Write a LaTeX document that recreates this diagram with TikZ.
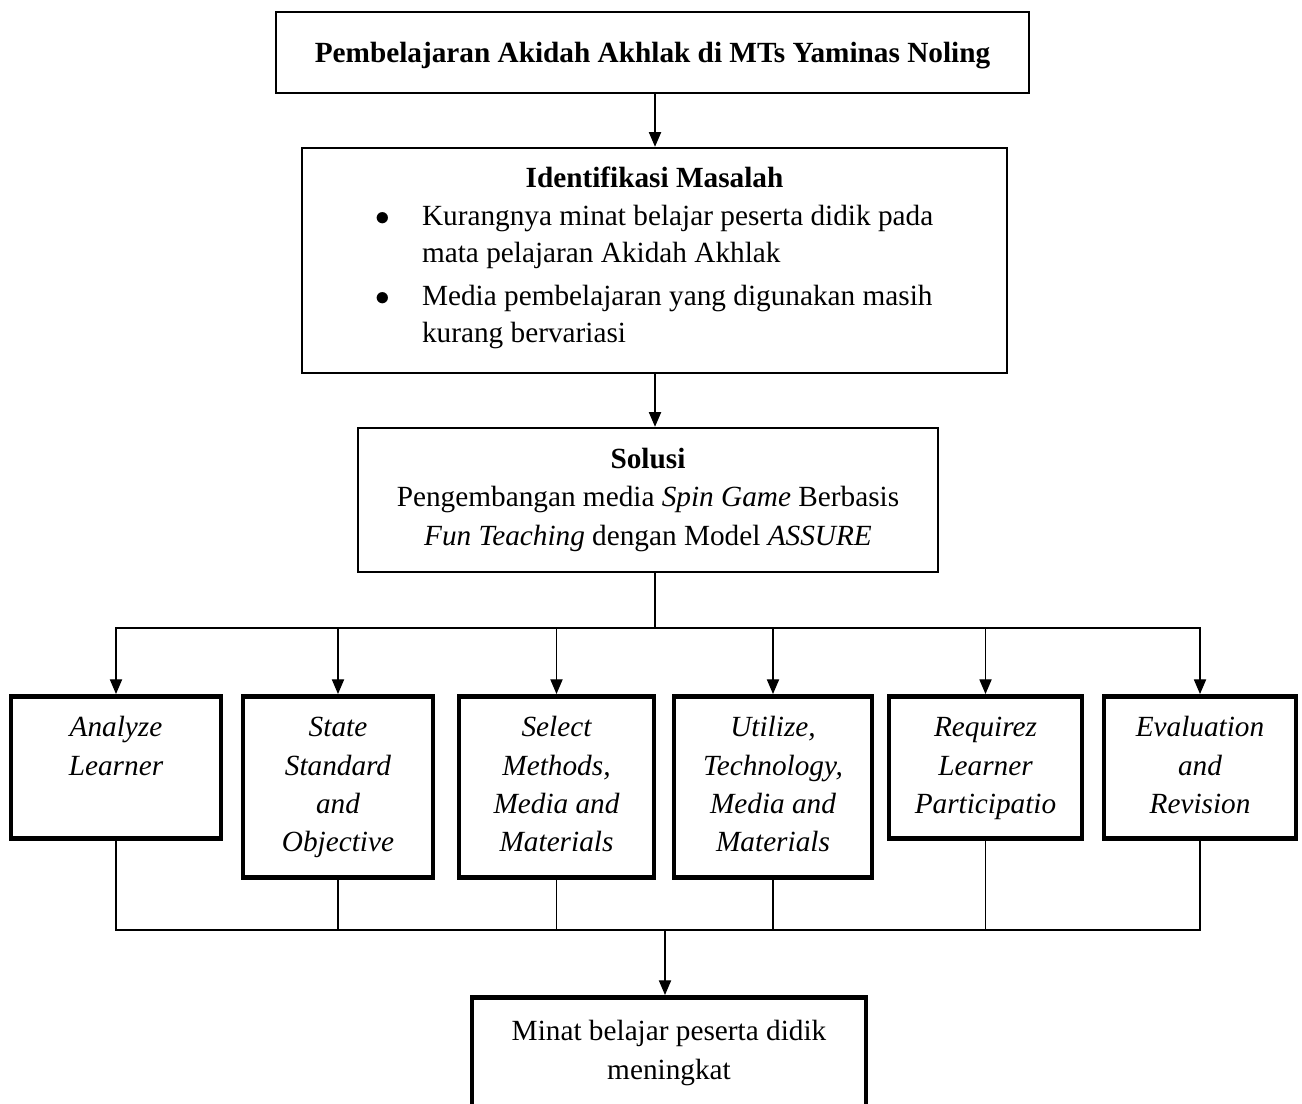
\documentclass[tikz,border=0pt]{standalone}
\usepackage{fontspec}
\setmainfont{Liberation Serif}
\usepackage{tikz}
\usetikzlibrary{arrows.meta, positioning, calc}
\newcommand{\px}{0.41pt}
\tikzset{
	titlebox/.style ={rectangle, draw=black, line width=1pt, align=center, font=\fontsize{12}{15.6}\selectfont\bfseries, text depth=0pt, minimum width=753*\px, minimum height=81*\px},
	probbox/.style  ={rectangle, draw=black, line width=1pt, align=center, minimum width=705*\px, minimum height=225*\px},
	solbox/.style   ={rectangle, draw=black, line width=1pt, align=center, minimum width=580*\px, minimum height=144*\px},
	% ASSURE step boxes (text height counts down to the last line)
	stepbox/.style  ={rectangle, draw=black, line width=2pt, align=center, anchor=north, inner ysep=0pt, inner xsep=2pt,
		font=\fontsize{12}{15.7}\selectfont\itshape, text depth=10.4pt},
	endbox/.style   ={rectangle, draw=black, line width=2pt, align=center, anchor=north, inner ysep=0pt,
		font=\fontsize{12}{16}\selectfont, text height=33.6pt, text depth=20pt, minimum width=394*\px},
	flowarrow/.style={-{Triangle[length=6pt, width=5pt]}, line width=0.5pt},
	wire/.style     ={line width=0.5pt},
}

\begin{document}
\begin{tikzpicture}[x=\px, y=-\px, font=\fontsize{12}{15.6}\selectfont]
	\useasboundingbox (0,0) rectangle (1302,1104);
	\clip (0,0) rectangle (1302,1104);
	% top
	\node[titlebox] (judul) at (652.5,52.5) {Pembelajaran Akidah Akhlak di MTs Yaminas Noling};
	\node[probbox] (masalah) at (654.5,260.5) {\textbf{Identifikasi Masalah}\\[0pt]
		\fontsize{12}{15.2}\selectfont
		\begin{tabular}[t]{@{}c@{\hspace{13pt}}l@{}}
			$\bullet$ & Kurangnya minat belajar peserta didik pada\\
			& mata pelajaran Akidah Akhlak\\[2.5pt]
			$\bullet$ & Media pembelajaran yang digunakan masih\\
			& kurang bervariasi
		\end{tabular}};
	\node[solbox] (solusi) at (648,500) {\textbf{Solusi}\\
		Pengembangan media \textit{Spin Game} Berbasis\\
		\textit{Fun Teaching} dengan Model \textit{ASSURE}};
	% ASSURE steps
	\node[stepbox, minimum width=210*\px, text height=32.3pt, text depth=26.1pt] (analyze) at (116,694) {Analyze\\Learner};
	\node[stepbox, minimum width=190*\px, text height=63.7pt] (state) at (338,694) {State\\Standard\\and\\Objective};
	\node[stepbox, minimum width=195*\px, text height=63.7pt] (select) at (556.5,694) {Select\\Methods,\\Media and\\Materials};
	\node[stepbox, minimum width=198*\px, text height=63.7pt] (utilize) at (773,694) {Utilize,\\Technology,\\Media and\\Materials};
	\node[stepbox, minimum width=193*\px, text height=48pt] (require) at (985.5,694) {Requirez\\Learner\\Participatio};
	\node[stepbox, minimum width=192*\px, text height=48pt] (evaluate) at (1200,694) {Evaluation\\and\\Revision};
	% result
	\node[endbox] (akhir) at (669,995) {Minat belajar peserta didik\\meningkat};
	% connectors
	\coordinate (atas) at (655,628);
	\coordinate (bawah) at (665,930);
	\draw[flowarrow] (atas |- judul.south) -- (atas |- masalah.north);
	\draw[flowarrow] (atas |- masalah.south) -- (atas |- solusi.north);
	\draw[wire] (atas |- solusi.south) -- (atas);
	\foreach \n in {analyze,state,select,utilize,require,evaluate}
		\draw[flowarrow] (atas) -| (\n.north);
	\foreach \n in {analyze,state,select,utilize,require,evaluate}
		\draw[wire] (\n.south) |- (bawah);
	\draw[flowarrow] (bawah) -- (bawah |- akhir.north);
\end{tikzpicture}
\end{document}
